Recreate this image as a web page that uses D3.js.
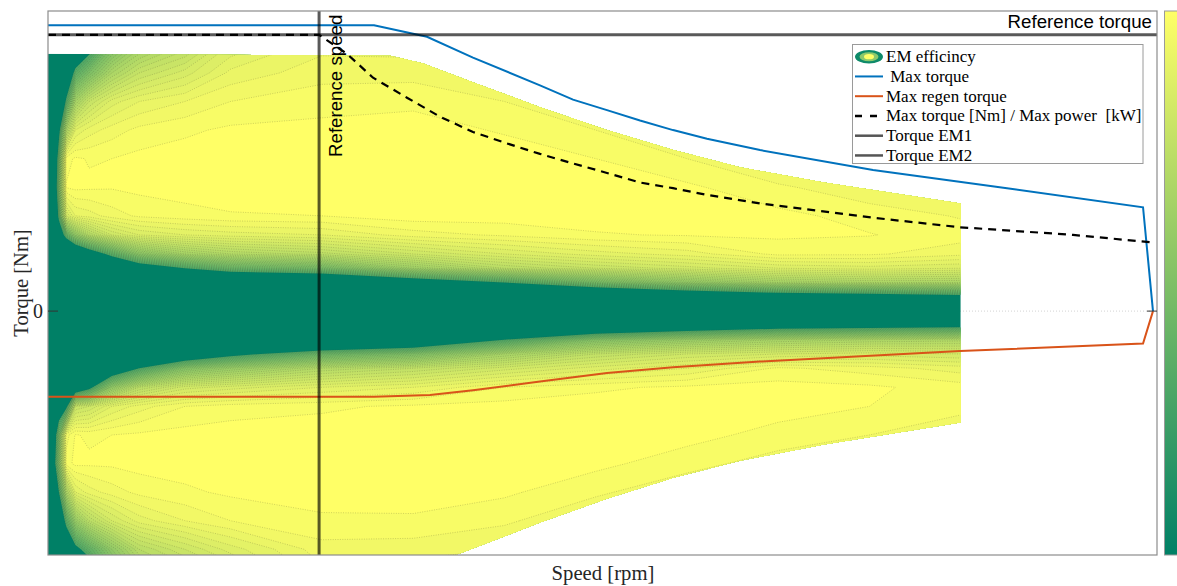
<!DOCTYPE html>
<html lang="en">
<head>
<meta charset="UTF-8">
<style>
    body { margin: 0; background: #fff; }
    svg { display: block; }
    .serif { font-family: "Liberation Serif", "Times New Roman", serif; }
    .sans { font-family: "Liberation Sans", Arial, sans-serif; }
    .legend text { white-space: pre; }
</style>
<script src="https://d3js.org/d3.v7.min.js"></script>
</head>
<body>
<div id="chart"></div>
<script>
// efficiency map grid: speed [rpm] columns, torque [Nm] rows, efficiency [%]
var mapSpeeds = [0, 60, 120, 200, 300, 450, 700, 1000, 1500, 2000, 3000, 4000, 5000, 6000, 7000, 8000, 9000, 10000];
var mapTorques = [280, 250, 220, 190, 160, 130, 100, 80, 60, 45, 30, 15, 0, -15, -30, -45, -60, -80, -100, -130, -160, -190, -220, -250, -280];
var effBySpeed = [
    [50, 50, 50, 50, 50, 50, 50, 50, 50, 50, 50, 50, 50, 50, 50, 50, 50, 50, 50, 50, 50, 50, 50, 50, 50],
    [50, 51, 53, 57, 60, 61, 58, 54, 51, 50, 50, 50, 50, 50, 50, 50, 50, 51, 55, 64, 66, 60, 55, 52, 50],
    [51, 54, 60, 68, 74, 76, 72, 64, 53, 51, 50, 50, 50, 50, 50, 50, 51, 54, 64, 76, 78, 70, 62, 55, 51],
    [55, 62, 71, 84, 95.5, 96.1, 90, 73, 56, 52, 50.5, 50, 50, 50, 50, 51, 53, 57, 68, 94.5, 95.5, 84, 72, 62, 55],
    [60, 72, 83, 92, 96.2, 96.3, 93, 80, 60, 54, 51, 50, 50, 50, 50.5, 52, 55, 63, 88, 96.1, 96.3, 92, 81, 68, 57],
    [66, 77, 88, 93.5, 95.9, 96.2, 93.5, 85, 65, 57, 52, 50.5, 50, 50.5, 51, 53, 58, 68, 89, 95.8, 96.2, 93.5, 86, 73, 62],
    [76, 84, 91.5, 94.5, 96, 96.1, 94.5, 89, 72, 60, 53, 51, 50, 51, 52, 55, 63, 80, 92, 96, 96.2, 94.5, 90, 80, 74],
    [82, 88, 93, 95.3, 96.3, 96.3, 95.2, 91, 79, 65, 55, 51, 50, 51, 53, 58, 70, 86, 93.5, 96.2, 96.4, 95.3, 92.5, 86, 81],
    [86, 90.5, 94, 95.8, 96.5, 96.5, 95.6, 92, 83, 70, 56, 51, 50, 51, 54, 63, 78, 89.5, 95, 96.4, 96.5, 95.8, 94, 89, 85],
    [91, 93.3, 95, 96.2, 96.6, 96.6, 95.9, 92.5, 85, 74, 58, 51, 50, 51, 56, 68, 81, 90.5, 95.5, 96.5, 96.6, 96.2, 95, 91.5, 88],
    [93.6, 94.6, 95.6, 96.3, 96.6, 96.6, 96, 93, 86.5, 76, 60, 52, 50, 51, 58, 74, 85, 92, 95.8, 96.6, 96.7, 96.5, 95.8, 94.6, 93.5],
    [93.5, 94.6, 95.8, 96.4, 96.7, 96.7, 96.6, 94.5, 89, 82, 65, 52, 50, 51, 61, 77, 87, 93, 96.2, 96.7, 96.8, 96.6, 95.8, 94.5, 93],
    [93, 94, 95, 95.9, 96.5, 96.7, 96.5, 95.2, 91, 86, 70, 55, 50, 55, 70, 83, 89.5, 95, 96.4, 96.8, 96.7, 96.2, 95.2, 94, 93],
    [91, 92.5, 93.8, 95, 96, 96.6, 96.5, 95.9, 92.5, 88, 76, 58, 50, 59, 78, 87, 91.5, 95.8, 96.5, 96.7, 96.3, 95.2, 94, 93, 92],
    [90, 91, 92, 93.5, 95, 96.2, 96.6, 96.1, 93.5, 89.5, 80, 62, 50, 63, 81, 89, 93, 96.2, 96.6, 96.4, 95.4, 94.2, 93, 92, 91],
    [89, 90, 91, 92, 93.5, 95.2, 96.3, 96.2, 95.3, 91, 83, 65, 50, 66, 83, 90, 95.2, 96.4, 96.5, 95.6, 94.5, 93.5, 92.5, 91.5, 90.5],
    [88, 89, 90, 91, 92.5, 94.2, 95.6, 96.05, 95.2, 91.5, 84, 66, 50, 67, 84, 90.5, 94.5, 96.2, 96, 95, 94, 93, 92, 91, 90],
    [87, 88, 89, 90, 91.5, 93.5, 94.9, 95.5, 94.3, 91, 84, 68, 50, 68, 84.5, 90, 93.5, 95.5, 95.3, 94.3, 93.5, 92.5, 91.5, 90.5, 89.5]
];
var effLevels = [70, 71, 72, 73, 74, 75, 76, 77, 78, 79, 80, 81, 82, 83, 84, 85, 86, 87, 88, 89, 90, 91, 92, 93, 94, 95, 96];

// torque limits of the measured map
var envSpeed = [0, 3750, 4110, 4660, 5390, 6120, 6850, 7580, 8500, 10000];
var envTop = [270, 268, 260, 240, 214, 190, 169, 151, 135, 113];
var envBottom = [-280, -278, -269, -249, -222, -197, -175, -157, -140, -117];

// [speed rpm, torque Nm]
var maxTorque = [[0, 300], [3572, 300], [4152, 288], [4656, 266], [5390, 237], [5752, 222], [6124, 211], [6486, 200],
    [6848, 190], [7220, 181], [7801, 169], [9039, 148], [10507, 129], [11997, 109], [12106, 0]];
var maxRegen = [[0, -90], [3572, -90], [4185, -88], [4656, -83], [5390, -74], [6124, -65], [6848, -59], [7801, -53],
    [9992, -42], [11997, -34], [12106, 0]];
var maxTorquePower = [[0, 290], [2970, 290], [3276, 270], [3561, 245], [3933, 224], [4295, 204], [4656, 188], [5029, 176],
    [5390, 165], [5752, 155], [6124, 145], [6486, 135], [6848, 129], [7220, 122], [7801, 113], [9039, 98], [9992, 88],
    [11230, 80], [12106, 72]];
var refSpeed = 2970;
var refTorque = 290;

var legendLabels = ["EM efficincy", " Max torque", "Max regen torque", "Max torque [Nm] / Max power  [kW]", "Torque EM1", "Torque EM2"];

var W = 1177, H = 586;
var plot = { left: 48, right: 1157, top: 11, bottom: 555 };

var x = d3.scaleLinear().domain([0, 12150]).range([plot.left, plot.right]);
var y = d3.scaleLinear().domain([-256, 315]).range([plot.bottom, plot.top]);
var color = d3.scaleLinear().domain([58, 96]).range(["#008066", "#ffff66"]).clamp(true);

var svg = d3.select("#chart").append("svg")
    .attr("width", W)
    .attr("height", H);

var defs = svg.append("defs");
defs.append("clipPath").attr("id", "plotClip")
    .append("rect")
    .attr("x", plot.left).attr("y", plot.top)
    .attr("width", plot.right - plot.left).attr("height", plot.bottom - plot.top);

var envArea = d3.area()
    .x(function (d, i) { return x(envSpeed[i]); })
    .y0(function (d, i) { return y(envBottom[i]); })
    .y1(function (d, i) { return y(envTop[i]); });

defs.append("clipPath").attr("id", "mapClip")
    .append("path")
    .attr("d", envArea(envSpeed));

defs.append("clipPath").attr("id", "lineClip")
    .append("rect")
    .attr("x", x(0) + 1).attr("y", plot.top)
    .attr("width", x(d3.max(envSpeed)) - x(0) - 2).attr("height", plot.bottom - plot.top);

var grad = defs.append("linearGradient").attr("id", "cbar")
    .attr("x1", 0).attr("y1", 1).attr("x2", 0).attr("y2", 0);
grad.append("stop").attr("offset", 0).attr("stop-color", color.range()[0]);
grad.append("stop").attr("offset", 1).attr("stop-color", color.range()[1]);

var plotG = svg.append("g").attr("clip-path", "url(#plotClip)");

// faint zero line
plotG.append("line")
    .attr("x1", x(0)).attr("x2", x(12106))
    .attr("y1", y(0)).attr("y2", y(0))
    .attr("stroke", "#c8c8c8")
    .attr("stroke-width", 0.8)
    .attr("stroke-dasharray", "1,2");

// efficiency contours
var n = mapSpeeds.length, m = mapTorques.length;
var values = new Array(n * m);
for (var j = 0; j < m; j++) {
    for (var i = 0; i < n; i++) {
        values[j * n + i] = effBySpeed[i][j];
    }
}

var contours = d3.contours()
    .size([n, m])
    .thresholds(effLevels)(values);

var gx = d3.scaleLinear().domain(d3.range(n)).range(mapSpeeds).clamp(true);
var gy = d3.scaleLinear().domain(d3.range(m)).range(mapTorques).clamp(true);
var gridPath = d3.geoPath(d3.geoTransform({
    point: function (px, py) { this.stream.point(x(gx(px - 0.5)), y(gy(py - 0.5))); }
}));

var mapG = plotG.append("g").attr("clip-path", "url(#mapClip)");

mapG.append("path")
    .attr("d", envArea(envSpeed))
    .attr("fill", color(58));

mapG.selectAll(".band")
    .data(contours)
    .enter()
    .append("path")
    .attr("class", "band")
    .attr("d", gridPath)
    .attr("fill", function (d) { return color(d.value); })
    .attr("fill-rule", "evenodd");

mapG.append("g")
    .attr("clip-path", "url(#lineClip)")
    .selectAll(".iso")
    .data(contours)
    .enter()
    .append("path")
    .attr("class", "iso")
    .attr("d", gridPath)
    .attr("fill", "none")
    .attr("stroke", "#4a4a30")
    .attr("stroke-opacity", 0.4)
    .attr("stroke-width", 0.6)
    .attr("stroke-dasharray", "1,1.4");

// curves
var line = d3.line()
    .x(function (d) { return x(d[0]); })
    .y(function (d) { return y(d[1]); });

plotG.append("path")
    .attr("d", line(maxTorque))
    .attr("fill", "none")
    .attr("stroke", "#0072BD")
    .attr("stroke-width", 2);

plotG.append("path")
    .attr("d", line(maxRegen))
    .attr("fill", "none")
    .attr("stroke", "#D95319")
    .attr("stroke-width", 2);

plotG.append("path")
    .attr("d", line(maxTorquePower))
    .attr("fill", "none")
    .attr("stroke", "#000")
    .attr("stroke-width", 2.2)
    .attr("stroke-dasharray", "8,6");

// reference lines
plotG.append("line")
    .attr("x1", x(refSpeed)).attr("x2", x(refSpeed))
    .attr("y1", plot.top).attr("y2", plot.bottom)
    .attr("stroke", "#000")
    .attr("stroke-opacity", 0.65)
    .attr("stroke-width", 3);

plotG.append("line")
    .attr("x1", plot.left).attr("x2", plot.right)
    .attr("y1", y(refTorque)).attr("y2", y(refTorque))
    .attr("stroke", "#000")
    .attr("stroke-opacity", 0.65)
    .attr("stroke-width", 3);

svg.append("text")
    .attr("class", "sans")
    .attr("x", 1152).attr("y", 28)
    .attr("text-anchor", "end")
    .style("font-size", "18.7px")
    .text("Reference torque");

svg.append("text")
    .attr("class", "sans")
    .attr("transform", "translate(" + (x(refSpeed) + 23) + ",157)rotate(-90)")
    .style("font-size", "18.7px")
    .text("Reference speed");

// axes box and ticks
svg.append("rect")
    .attr("x", plot.left).attr("y", plot.top)
    .attr("width", plot.right - plot.left).attr("height", plot.bottom - plot.top)
    .attr("fill", "none")
    .attr("stroke", "#8c8c8c")
    .attr("stroke-width", 1.2);

svg.append("line")
    .attr("x1", plot.left).attr("x2", plot.left + 10)
    .attr("y1", y(0)).attr("y2", y(0))
    .attr("stroke", "#333");
svg.append("line")
    .attr("x1", plot.right - 10).attr("x2", plot.right)
    .attr("y1", y(0)).attr("y2", y(0))
    .attr("stroke", "#333");

svg.append("text")
    .attr("class", "serif")
    .attr("x", plot.left - 5).attr("y", y(0) + 7)
    .attr("text-anchor", "end")
    .style("font-size", "20px")
    .attr("fill", "#262626")
    .text("0");

svg.append("text")
    .attr("class", "serif")
    .attr("transform", "translate(28,283)rotate(-90)")
    .attr("text-anchor", "middle")
    .style("font-size", "20.5px")
    .attr("fill", "#262626")
    .text("Torque [Nm]");

svg.append("text")
    .attr("class", "serif")
    .attr("x", 603).attr("y", 580)
    .attr("text-anchor", "middle")
    .style("font-size", "20.7px")
    .attr("fill", "#262626")
    .text("Speed [rpm]");

// colorbar
svg.append("rect")
    .attr("x", 1164.5).attr("y", plot.top)
    .attr("width", 24).attr("height", plot.bottom - plot.top)
    .attr("fill", "url(#cbar)")
    .attr("stroke", "#9a9a9a");

// legend
var legend = svg.append("g").attr("class", "legend");
legend.append("rect")
    .attr("x", 852.5).attr("y", 44.5)
    .attr("width", 290.5).attr("height", 119)
    .attr("fill", "#fff")
    .attr("stroke", "#9a9a9a");

var rowY = function (i) { return 56.7 + i * 19.75; };

legend.selectAll(".ltext")
    .data(legendLabels)
    .enter()
    .append("text")
    .attr("class", "ltext serif")
    .attr("x", 886)
    .attr("y", function (d, i) { return rowY(i) + 5.5; })
    .style("font-size", "17px")
    .text(function (d) { return d; });

legend.append("ellipse").attr("cx", 869).attr("cy", rowY(0)).attr("rx", 14).attr("ry", 6.7).attr("fill", "#0e8a69");
legend.append("ellipse").attr("cx", 869).attr("cy", rowY(0)).attr("rx", 9.5).attr("ry", 4.5).attr("fill", "#8cc96c");
legend.append("ellipse").attr("cx", 869).attr("cy", rowY(0)).attr("rx", 5).attr("ry", 2.6).attr("fill", "#ffff66");

var legendLines = [
    { row: 1, stroke: "#0072BD", dash: null },
    { row: 2, stroke: "#D95319", dash: null },
    { row: 3, stroke: "#000", dash: "7,8" },
    { row: 4, stroke: "#555", dash: null },
    { row: 5, stroke: "#555", dash: null }
];
legend.selectAll(".lline")
    .data(legendLines)
    .enter()
    .append("line")
    .attr("x1", 855).attr("x2", 883)
    .attr("y1", function (d) { return rowY(d.row); })
    .attr("y2", function (d) { return rowY(d.row); })
    .attr("stroke", function (d) { return d.stroke; })
    .attr("stroke-width", function (d) { return d.row >= 3 ? 2.5 : 2; })
    .attr("stroke-dasharray", function (d) { return d.dash; });
</script>
</body>
</html>
